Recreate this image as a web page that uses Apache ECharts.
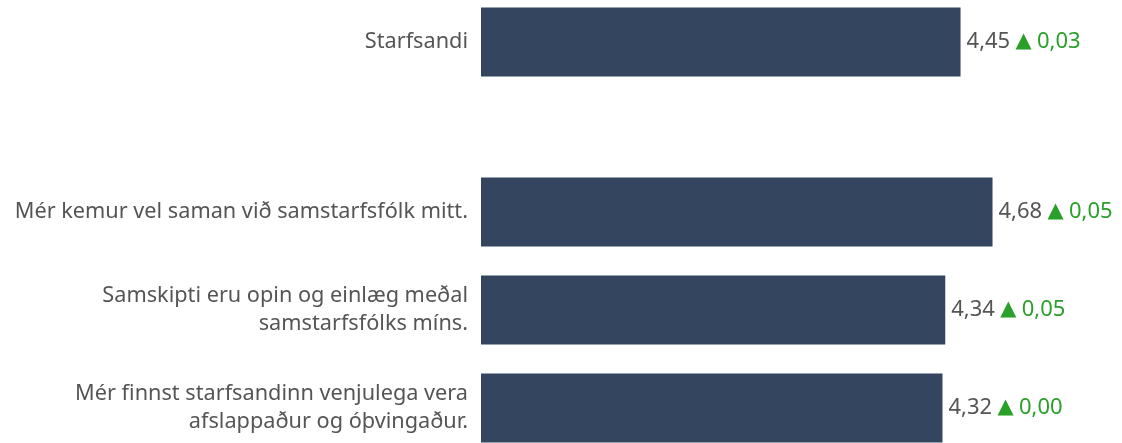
<!DOCTYPE html>
<html>
<head>
<meta charset="utf-8">
<script src="https://cdn.jsdelivr.net/npm/echarts@6/dist/echarts.min.js"></script>
<style>
  html, body { margin: 0; height: 100%; background: #fff; }
  #main { width: 1122px; height: 443px; }
</style>
</head>
<body>
<div id="main"></div>
<script>
// summary row
var topCategory = ['Starfsandi'];
var topValue = [4.45];
var topChange = [0.03];

// question rows
var categories = [
  'Mér kemur vel saman við samstarfsfólk mitt.',
  'Samskipti eru opin og einlæg meðal\nsamstarfsfólks míns.',
  'Mér finnst starfsandinn venjulega vera\nafslappaður og óþvingaður.'
];
var values = [4.68, 4.34, 4.32];
var changes = [0.05, 0.05, 0.00];

var barColor = '#33455f';
var fontName = 'Noto Sans';

function fmt(v) {
  return v.toFixed(2).replace('.', ',');
}

function makeLabel(changeArr) {
  return {
    show: true,
    position: 'right',
    distance: 6,
    formatter: function (p) {
      return '{v|' + fmt(p.value) + '} {t|▲} {c|' + fmt(changeArr[p.dataIndex]) + '}';
    },
    rich: {
      v: { color: '#555', fontSize: 22, fontFamily: fontName },
      t: { color: '#2aa02a', fontSize: 21, fontFamily: 'DejaVu Sans', padding: [0, 2, 0, 2] },
      c: { color: '#2aa02a', fontSize: 22, fontFamily: fontName }
    }
  };
}

var chart = echarts.init(document.getElementById('main'));

function catAxis(idx, data) {
  return {
    type: 'category',
    gridIndex: idx,
    data: data,
    inverse: true,
    axisLine: { show: false },
    axisTick: { show: false },
    axisLabel: {
      margin: 13,
      color: '#555',
      fontSize: 21.7,
      fontFamily: fontName,
      lineHeight: 28,
      padding: [4, 0, 0, 0],
      align: 'right'
    }
  };
}

function valAxis(idx) {
  return {
    type: 'value',
    gridIndex: idx,
    min: 1,
    max: 5,
    show: false
  };
}

chart.setOption({
  animation: false,
  grid: [
    { left: 481, width: 556, top: -7, height: 98, outerBoundsMode: 'none', containLabel: false },
    { left: 481, width: 556, top: 163, height: 294, outerBoundsMode: 'none', containLabel: false }
  ],
  xAxis: [valAxis(0), valAxis(1)],
  yAxis: [catAxis(0, topCategory), catAxis(1, categories)],
  series: [
    {
      type: 'bar',
      xAxisIndex: 0,
      yAxisIndex: 0,
      data: topValue,
      barWidth: 69,
      itemStyle: { color: barColor },
      label: makeLabel(topChange)
    },
    {
      type: 'bar',
      xAxisIndex: 1,
      yAxisIndex: 1,
      data: values,
      barWidth: 69,
      itemStyle: { color: barColor },
      label: makeLabel(changes)
    }
  ]
});
</script>
</body>
</html>
